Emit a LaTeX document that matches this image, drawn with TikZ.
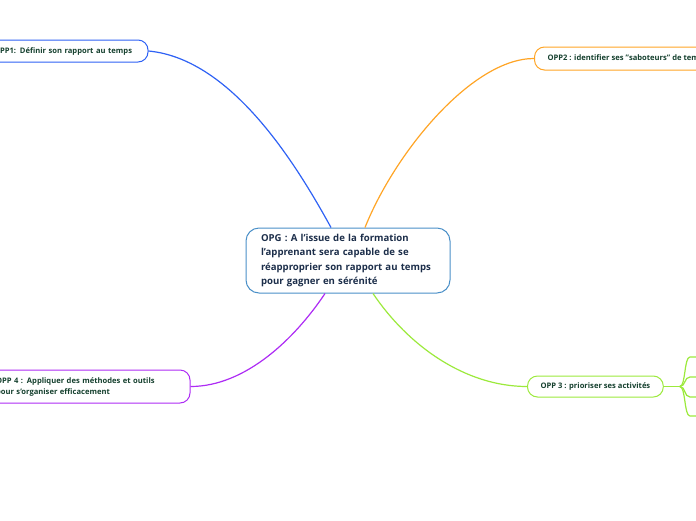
\documentclass[tikz,border=0pt]{standalone}
\usepackage{fontspec}
\setmainfont{Open Sans}
\usetikzlibrary{calc}
\definecolor{cborder}{HTML}{4A90C8}
\definecolor{ctext}{HTML}{1C2E4A}
\definecolor{stext}{HTML}{15402E}
\definecolor{cblue}{HTML}{2F62F5}
\definecolor{corange}{HTML}{FFA526}
\definecolor{cpurple}{HTML}{AE2CF5}
\definecolor{cgreen}{HTML}{9CEA3C}
\begin{document}
\begin{tikzpicture}[x=1pt,y=-1pt,
  mainbox/.style={draw=cborder, line width=1pt, rounded corners=13pt, fill=white,
    text=ctext, font=\bfseries\fontsize{9.6}{14.6}\selectfont, align=left,
    text width=174pt, inner xsep=15pt, minimum height=65pt},
  subbox/.style={draw=#1, line width=1pt, rounded corners=10pt, fill=white,
    text=stext, font=\bfseries\fontsize{7.6}{11}\selectfont, align=left,
    inner xsep=13pt, inner ysep=2pt},
  link/.style={draw=#1, line width=1.2pt}]
\clip (0,0) rectangle (696,520);
\fill[white] (0,0) rectangle (696,520);

\node[mainbox] (opg) at (348,260.5) {OPG : A l'issue de la formation l'apprenant sera capable de se réapproprier son rapport au temps pour gagner en sérénité};

\node[subbox=cblue, text width=141pt, minimum height=22pt] (opp1) at (64.5,51) {OPP1: Définir son rapport au temps};
\node[subbox=corange, anchor=west, minimum height=23pt] (opp2) at (534,58.5) {OPP2 : identifier ses "saboteurs" de temps};
\node[subbox=cpurple, text width=181pt, minimum height=33pt] (opp4) at (86.5,386.5) {OPP 4 : Appliquer des méthodes et outils\\pour s'organiser efficacement};
\node[subbox=cgreen, anchor=west, minimum height=21pt] (opp3) at (527,386.5) {OPP 3 : prioriser ses activités};

\draw[link=cblue] (opp1.east) .. controls +(85,8) and +(-32,-58) .. ($(opg.north)+(-17,0)$);
\draw[link=corange] ($(opg.north)+(17,0)$) .. controls +(30,-75) and +(-62,0) .. (opp2.west);
\draw[link=cpurple] ($(opg.south)+(-23,0)$) .. controls +(-30,45) and +(55,0) .. (opp4.east);
\draw[link=cgreen] ($(opg.south)+(25,0)$) .. controls +(35,52) and +(-62,0) .. (opp3.west);

\coordinate (j) at ($(opp3.east)+(16,0)$);
\coordinate (k1) at (690,357);
\coordinate (k2) at (690,377);
\coordinate (k3) at (690,397);
\coordinate (k4) at (690,416);
\draw[link=cgreen] (opp3.east) -- (j);
\foreach \k in {k1,k2,k3,k4}{
  \draw[link=cgreen] (j) .. controls +(6,0) and +(-6,0) .. (\k) -- ++(12,0);
}
\end{tikzpicture}
\end{document}
